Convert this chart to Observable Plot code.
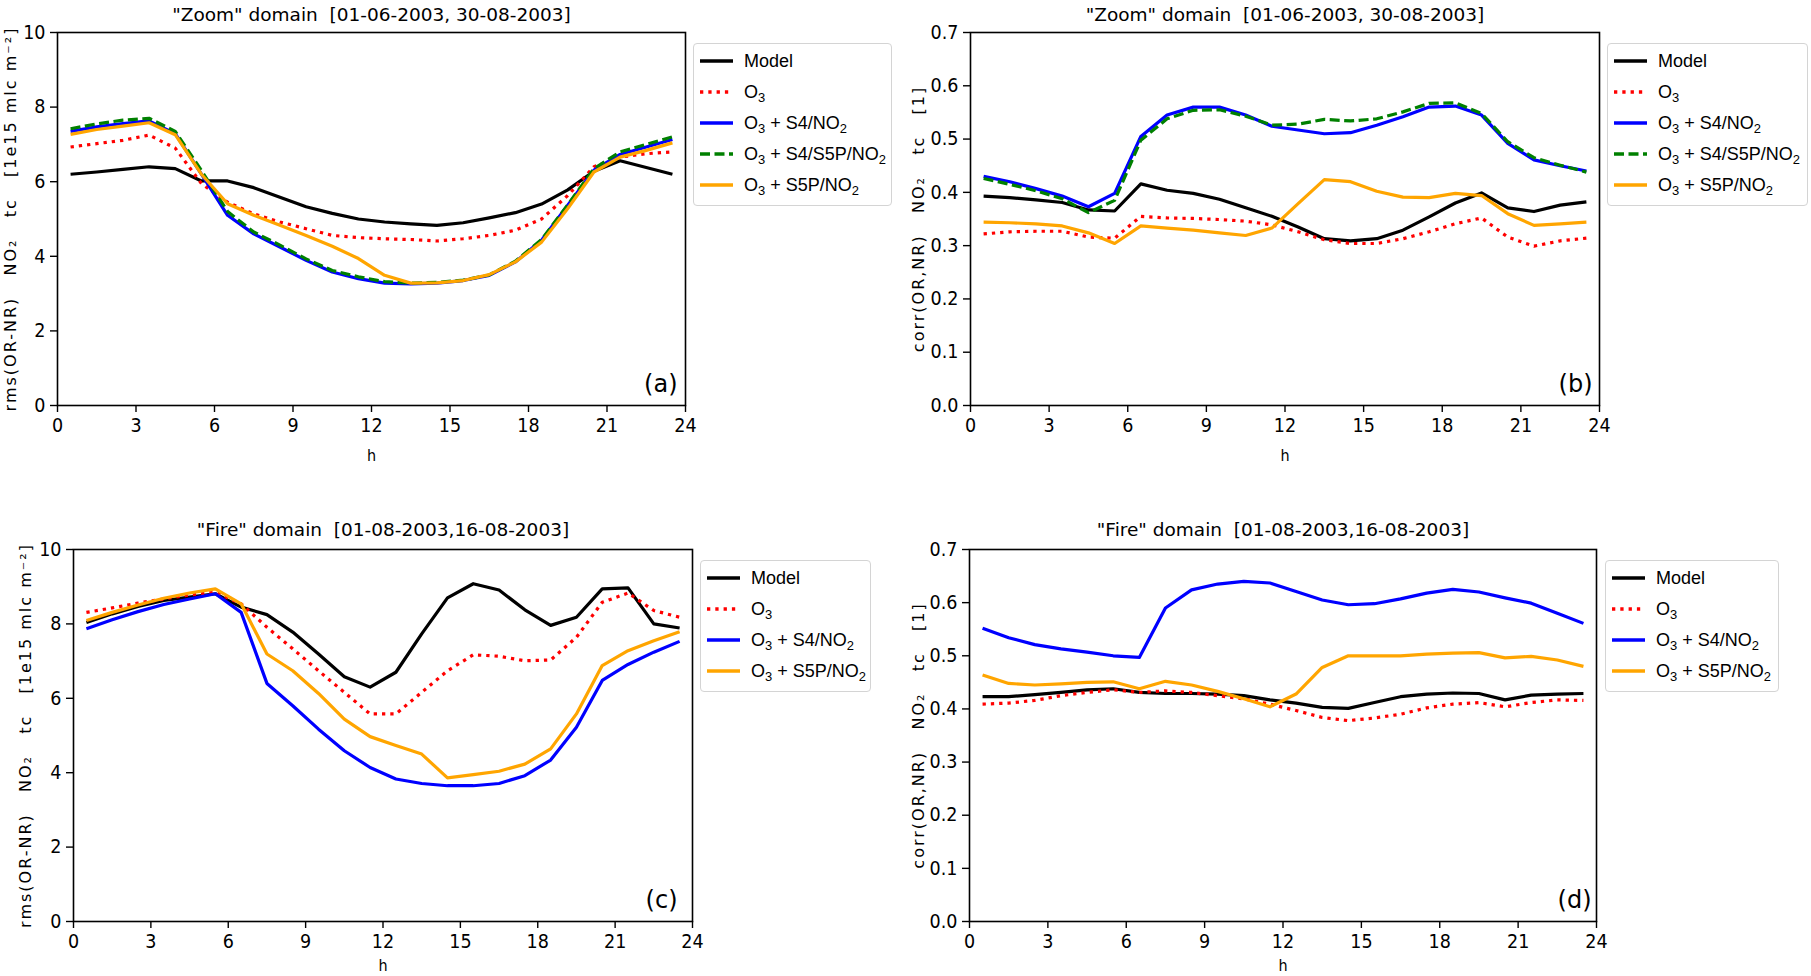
<!DOCTYPE html>
<html>
<head>
<meta charset="utf-8">
<script src="https://cdn.jsdelivr.net/npm/d3@7"></script>
<script src="https://cdn.jsdelivr.net/npm/@observablehq/plot@0.6"></script>
<style>
  body { margin: 0; background: #fff; }
  #root { position: relative; width: 1811px; height: 976px; overflow: hidden; background: #fff; }
  .panel { position: absolute; }
  .legend { position: absolute; border: 1px solid #d4d4d4; border-radius: 4px; background: #fff; box-sizing: border-box;
            font-family: "Liberation Sans", Arial, sans-serif; font-size: 18px; color: #000; }
  .row { position: absolute; left: 0; height: 24px; width: 100%; }
  .row svg { position: absolute; left: 5px; top: 7px; }
  .row span { position: absolute; left: 50px; top: 0; line-height: 24px; white-space: nowrap; }
  .row sub { font-size: 0.72em; vertical-align: -0.3em; line-height: 0; }
</style>
</head>
<body>
<div id="root"></div>
<script>
// ---------------- data ----------------
const hours = [0.5,1.5,2.5,3.5,4.5,5.5,6.5,7.5,8.5,9.5,10.5,11.5,12.5,13.5,14.5,15.5,16.5,17.5,18.5,19.5,20.5,21.5,22.5,23.5];
const xTicks = [0,3,6,9,12,15,18,21,24];
const rmsTicks = [0,2,4,6,8,10];
const corrTicks = [0,0.1,0.2,0.3,0.4,0.5,0.6,0.7];

const seriesNames = ["Model", "O3", "O3 + S4/NO2", "O3 + S4/S5P/NO2", "O3 + S5P/NO2"];

// (a) "Zoom" domain, rms
const zoomRmsModel  = [6.2,6.26,6.33,6.4,6.35,6.02,6.02,5.84,5.58,5.33,5.15,5.0,4.92,4.87,4.83,4.9,5.03,5.17,5.4,5.78,6.28,6.56,6.38,6.2];
const zoomRmsO3     = [6.93,7.02,7.11,7.25,6.9,5.95,5.45,5.14,4.92,4.74,4.56,4.5,4.47,4.45,4.41,4.47,4.56,4.7,5.0,5.63,6.4,6.66,6.75,6.8];
const zoomRmsS4     = [7.35,7.47,7.56,7.63,7.29,6.2,5.1,4.6,4.25,3.89,3.58,3.4,3.28,3.26,3.28,3.35,3.49,3.85,4.43,5.37,6.31,6.73,6.93,7.13];
const zoomRmsS4S5P  = [7.42,7.55,7.65,7.7,7.35,6.3,5.2,4.65,4.3,3.93,3.62,3.45,3.32,3.28,3.3,3.36,3.5,3.87,4.45,5.38,6.35,6.8,7.0,7.2];
const zoomRmsS5P    = [7.27,7.4,7.49,7.58,7.26,6.2,5.41,5.1,4.83,4.56,4.27,3.94,3.49,3.28,3.29,3.35,3.51,3.85,4.38,5.28,6.26,6.66,6.84,7.04];

// (b) "Zoom" domain, corr
const zoomCorrModel = [0.393,0.39,0.386,0.381,0.367,0.365,0.416,0.404,0.398,0.387,0.371,0.355,0.335,0.313,0.309,0.313,0.329,0.354,0.38,0.399,0.371,0.364,0.376,0.382];
const zoomCorrO3    = [0.322,0.326,0.327,0.327,0.316,0.314,0.355,0.352,0.351,0.349,0.346,0.339,0.326,0.311,0.304,0.304,0.313,0.326,0.341,0.352,0.316,0.299,0.309,0.314];
const zoomCorrS4    = [0.43,0.42,0.407,0.393,0.373,0.398,0.505,0.545,0.56,0.56,0.545,0.524,0.517,0.51,0.512,0.526,0.542,0.56,0.562,0.545,0.492,0.461,0.45,0.44];
const zoomCorrS4S5P = [0.426,0.415,0.403,0.388,0.362,0.385,0.498,0.538,0.554,0.555,0.543,0.526,0.528,0.537,0.534,0.538,0.551,0.567,0.568,0.548,0.495,0.465,0.451,0.438];
const zoomCorrS5P   = [0.344,0.343,0.341,0.337,0.324,0.304,0.337,0.333,0.329,0.324,0.319,0.333,0.379,0.424,0.42,0.402,0.391,0.39,0.398,0.394,0.36,0.338,0.341,0.344];

// (c) "Fire" domain, rms
const fireRmsModel  = [8.04,8.27,8.47,8.63,8.72,8.81,8.45,8.25,7.78,7.19,6.58,6.3,6.7,7.73,8.7,9.08,8.91,8.38,7.96,8.18,8.94,8.97,8.0,7.89];
const fireRmsO3     = [8.31,8.43,8.56,8.67,8.78,8.85,8.54,7.91,7.33,6.74,6.16,5.58,5.58,6.16,6.74,7.17,7.13,7.01,7.03,7.64,8.58,8.83,8.36,8.18];
const fireRmsS4     = [7.87,8.11,8.33,8.52,8.67,8.81,8.31,6.4,5.8,5.17,4.59,4.14,3.83,3.71,3.65,3.65,3.71,3.92,4.34,5.22,6.48,6.91,7.24,7.53];
const fireRmsS5P    = [8.09,8.31,8.51,8.69,8.83,8.94,8.54,7.19,6.74,6.13,5.44,4.97,4.73,4.5,3.86,3.95,4.04,4.23,4.64,5.58,6.88,7.28,7.55,7.79];

// (d) "Fire" domain, corr
const fireCorrModel = [0.423,0.423,0.427,0.431,0.436,0.438,0.431,0.429,0.429,0.428,0.425,0.417,0.411,0.403,0.401,0.412,0.423,0.428,0.43,0.429,0.417,0.426,0.428,0.429];
const fireCorrO3    = [0.409,0.411,0.416,0.425,0.431,0.436,0.431,0.434,0.431,0.425,0.419,0.409,0.397,0.384,0.378,0.383,0.39,0.402,0.409,0.412,0.404,0.412,0.417,0.416];
const fireCorrS4    = [0.552,0.534,0.521,0.513,0.507,0.5,0.497,0.59,0.624,0.635,0.64,0.637,0.621,0.605,0.596,0.598,0.607,0.618,0.625,0.62,0.609,0.599,0.58,0.561];
const fireCorrS5P   = [0.464,0.448,0.445,0.447,0.45,0.451,0.438,0.452,0.445,0.433,0.419,0.404,0.428,0.478,0.5,0.5,0.5,0.503,0.505,0.506,0.496,0.499,0.492,0.48];

// ---------------- styles ----------------
const seriesStyle = {
  "Model":           {color: "#000000", dash: null},
  "O3":              {color: "#ff0000", dash: "3.3,5"},
  "O3 + S4/NO2":     {color: "#0000ff", dash: null},
  "O3 + S4/S5P/NO2": {color: "#008000", dash: "10,4.5"},
  "O3 + S5P/NO2":    {color: "#ffa500", dash: null}
};
const legendHtml = {
  "Model": "Model",
  "O3": "O<sub>3</sub>",
  "O3 + S4/NO2": "O<sub>3</sub> + S4/NO<sub>2</sub>",
  "O3 + S4/S5P/NO2": "O<sub>3</sub> + S4/S5P/NO<sub>2</sub>",
  "O3 + S5P/NO2": "O<sub>3</sub> + S5P/NO<sub>2</sub>"
};

function hasFont(name) {
  const ctx = document.createElement("canvas").getContext("2d");
  const s = "mmmmmmmmmmlli10.7WQ";
  for (const base of ["monospace", "serif"]) {
    ctx.font = `72px ${base}`;
    const w0 = ctx.measureText(s).width;
    ctx.font = `72px "${name}", ${base}`;
    if (ctx.measureText(s).width !== w0) return true;
  }
  return false;
}
const narrow = ["DejaVu Sans Condensed", "Liberation Sans Narrow", "Roboto Condensed", "Arial Narrow"].find(hasFont);
const tickFont = narrow ? `"${narrow}"` : `"Liberation Sans"`;
const tickSize = narrow ? 19.5 : 17;

const rmsLabel  = "rms(OR-NR)\u00a0\u00a0\u00a0NO\u2082\u00a0\u00a0\u00a0tc\u00a0\u00a0\u00a0[1e15 mlc m\u207b\u00b2]";
const corrLabel = "corr(OR,NR)\u00a0\u00a0\u00a0NO\u2082\u00a0\u00a0\u00a0tc\u00a0\u00a0\u00a0[1]";

const panels = [
  {tag: "(a)", title: "\"Zoom\" domain  [01-06-2003, 30-08-2003]", ylabel: rmsLabel, yDomain: [0, 10], yTicks: rmsTicks, fmt: d3.format("d"),
   names: seriesNames, values: [zoomRmsModel, zoomRmsO3, zoomRmsS4, zoomRmsS4S5P, zoomRmsS5P],
   left: 0, top: 0, width: 690, height: 470, mL: 57, mR: 5, mT: 32, mB: 65, ylDx: -47, tagDx: -8, titleDy: -11.5, hDy: 55,
   legend: {left: 693, top: 43, width: 199, height: 163}},
  {tag: "(b)", title: "\"Zoom\" domain  [01-06-2003, 30-08-2003]", ylabel: corrLabel, yDomain: [0, 0.7], yTicks: corrTicks, fmt: d3.format(".1f"),
   names: seriesNames, values: [zoomCorrModel, zoomCorrO3, zoomCorrS4, zoomCorrS4S5P, zoomCorrS5P],
   left: 900, top: 0, width: 705, height: 470, mL: 70, mR: 6, mT: 32, mB: 65, ylDx: -52, tagDx: -7, titleDy: -11.5, hDy: 55,
   legend: {left: 1607, top: 43, width: 201, height: 163}},
  {tag: "(c)", title: "\"Fire\" domain  [01-08-2003,16-08-2003]", ylabel: rmsLabel, yDomain: [0, 10], yTicks: rmsTicks, fmt: d3.format("d"),
   names: ["Model", "O3", "O3 + S4/NO2", "O3 + S5P/NO2"], values: [fireRmsModel, fireRmsO3, fireRmsS4, fireRmsS5P],
   left: 0, top: 500, width: 700, height: 476, mL: 73, mR: 8, mT: 49, mB: 55, ylDx: -48, tagDx: -15, titleDy: -14, hDy: 49,
   legend: {left: 700, top: 560, width: 171, height: 132}},
  {tag: "(d)", title: "\"Fire\" domain  [01-08-2003,16-08-2003]", ylabel: corrLabel, yDomain: [0, 0.7], yTicks: corrTicks, fmt: d3.format(".1f"),
   names: ["Model", "O3", "O3 + S4/NO2", "O3 + S5P/NO2"], values: [fireCorrModel, fireCorrO3, fireCorrS4, fireCorrS5P],
   left: 900, top: 500, width: 700, height: 476, mL: 69, mR: 4, mT: 49, mB: 55, ylDx: -51, tagDx: -5, titleDy: -14, hDy: 49,
   legend: {left: 1605, top: 560, width: 174, height: 132}}
];

const root = document.getElementById("root");

for (const p of panels) {
  const rows = p.names.flatMap((name, i) => hours.map((h, j) => ({h, v: p.values[i][j], s: name})));
  const lines = p.names.map(name => {
    const st = seriesStyle[name];
    return Plot.line(rows.filter(r => r.s === name), {
      x: "h", y: "v", stroke: st.color, strokeWidth: 3.2,
      strokeDasharray: st.dash || undefined, strokeLinejoin: "round", strokeLinecap: "butt"
    });
  });
  const svg = Plot.plot({
    width: p.width, height: p.height,
    marginLeft: p.mL, marginRight: p.mR, marginTop: p.mT, marginBottom: p.mB,
    x: {domain: [0, 24]},
    y: {domain: p.yDomain},
    style: {fontFamily: tickFont, fontSize: tickSize + "px", background: "transparent", overflow: "visible", color: "#000"},
    marks: [
      ...lines,
      Plot.frame({stroke: "#000", strokeWidth: 1.6}),
      Plot.axisX({ticks: xTicks, tickFormat: d3.format("d"), tickSize: 7, tickPadding: 6, strokeWidth: 1.4, label: null}),
      Plot.axisY({ticks: p.yTicks, tickFormat: p.fmt, tickSize: 7, tickPadding: 5, strokeWidth: 1.4, label: null}),
      Plot.text(["h"], {text: d => d, frameAnchor: "bottom", dy: p.hDy, lineAnchor: "bottom", fontSize: 16}),
      Plot.text([p.ylabel], {text: d => d, frameAnchor: "left", rotate: -90, dx: p.ylDx, textAnchor: "middle", lineAnchor: "middle",
                             fontFamily: "DejaVu Sans", fontSize: 16}),
      Plot.text([p.title], {text: d => d, frameAnchor: "top", dy: p.titleDy, textAnchor: "middle", lineAnchor: "bottom",
                            fontFamily: "DejaVu Sans", fontSize: 18.5}),
      Plot.text([p.tag], {text: d => d, frameAnchor: "bottom-right", dx: p.tagDx, dy: -14, textAnchor: "end", lineAnchor: "bottom",
                          fontFamily: "DejaVu Sans", fontSize: 24})
    ]
  });
  svg.classList.add("panel");
  svg.style.left = p.left + "px";
  svg.style.top = p.top + "px";
  svg.querySelectorAll("text").forEach(t => {
    if (t.textContent.startsWith("rms(") || t.textContent.startsWith("corr(")) t.style.letterSpacing = "2px";
    if (t.textContent.includes("domain")) t.style.whiteSpace = "pre";
  });
  root.appendChild(svg);

  // legend
  const lg = document.createElement("div");
  lg.className = "legend";
  Object.assign(lg.style, {left: p.legend.left + "px", top: p.legend.top + "px", width: p.legend.width + "px", height: p.legend.height + "px"});
  p.names.forEach((name, i) => {
    const st = seriesStyle[name];
    const row = document.createElement("div");
    row.className = "row";
    row.style.top = (18 + i * 31 - 12 - 1) + "px";
    row.innerHTML = `<svg width="40" height="10"><line x1="1" x2="34" y1="5" y2="5" stroke="${st.color}" stroke-width="3.4" ${st.dash ? `stroke-dasharray="${st.dash}"` : ""}/></svg><span>${legendHtml[name]}</span>`;
    lg.appendChild(row);
  });
  root.appendChild(lg);
}
</script>
</body>
</html>
